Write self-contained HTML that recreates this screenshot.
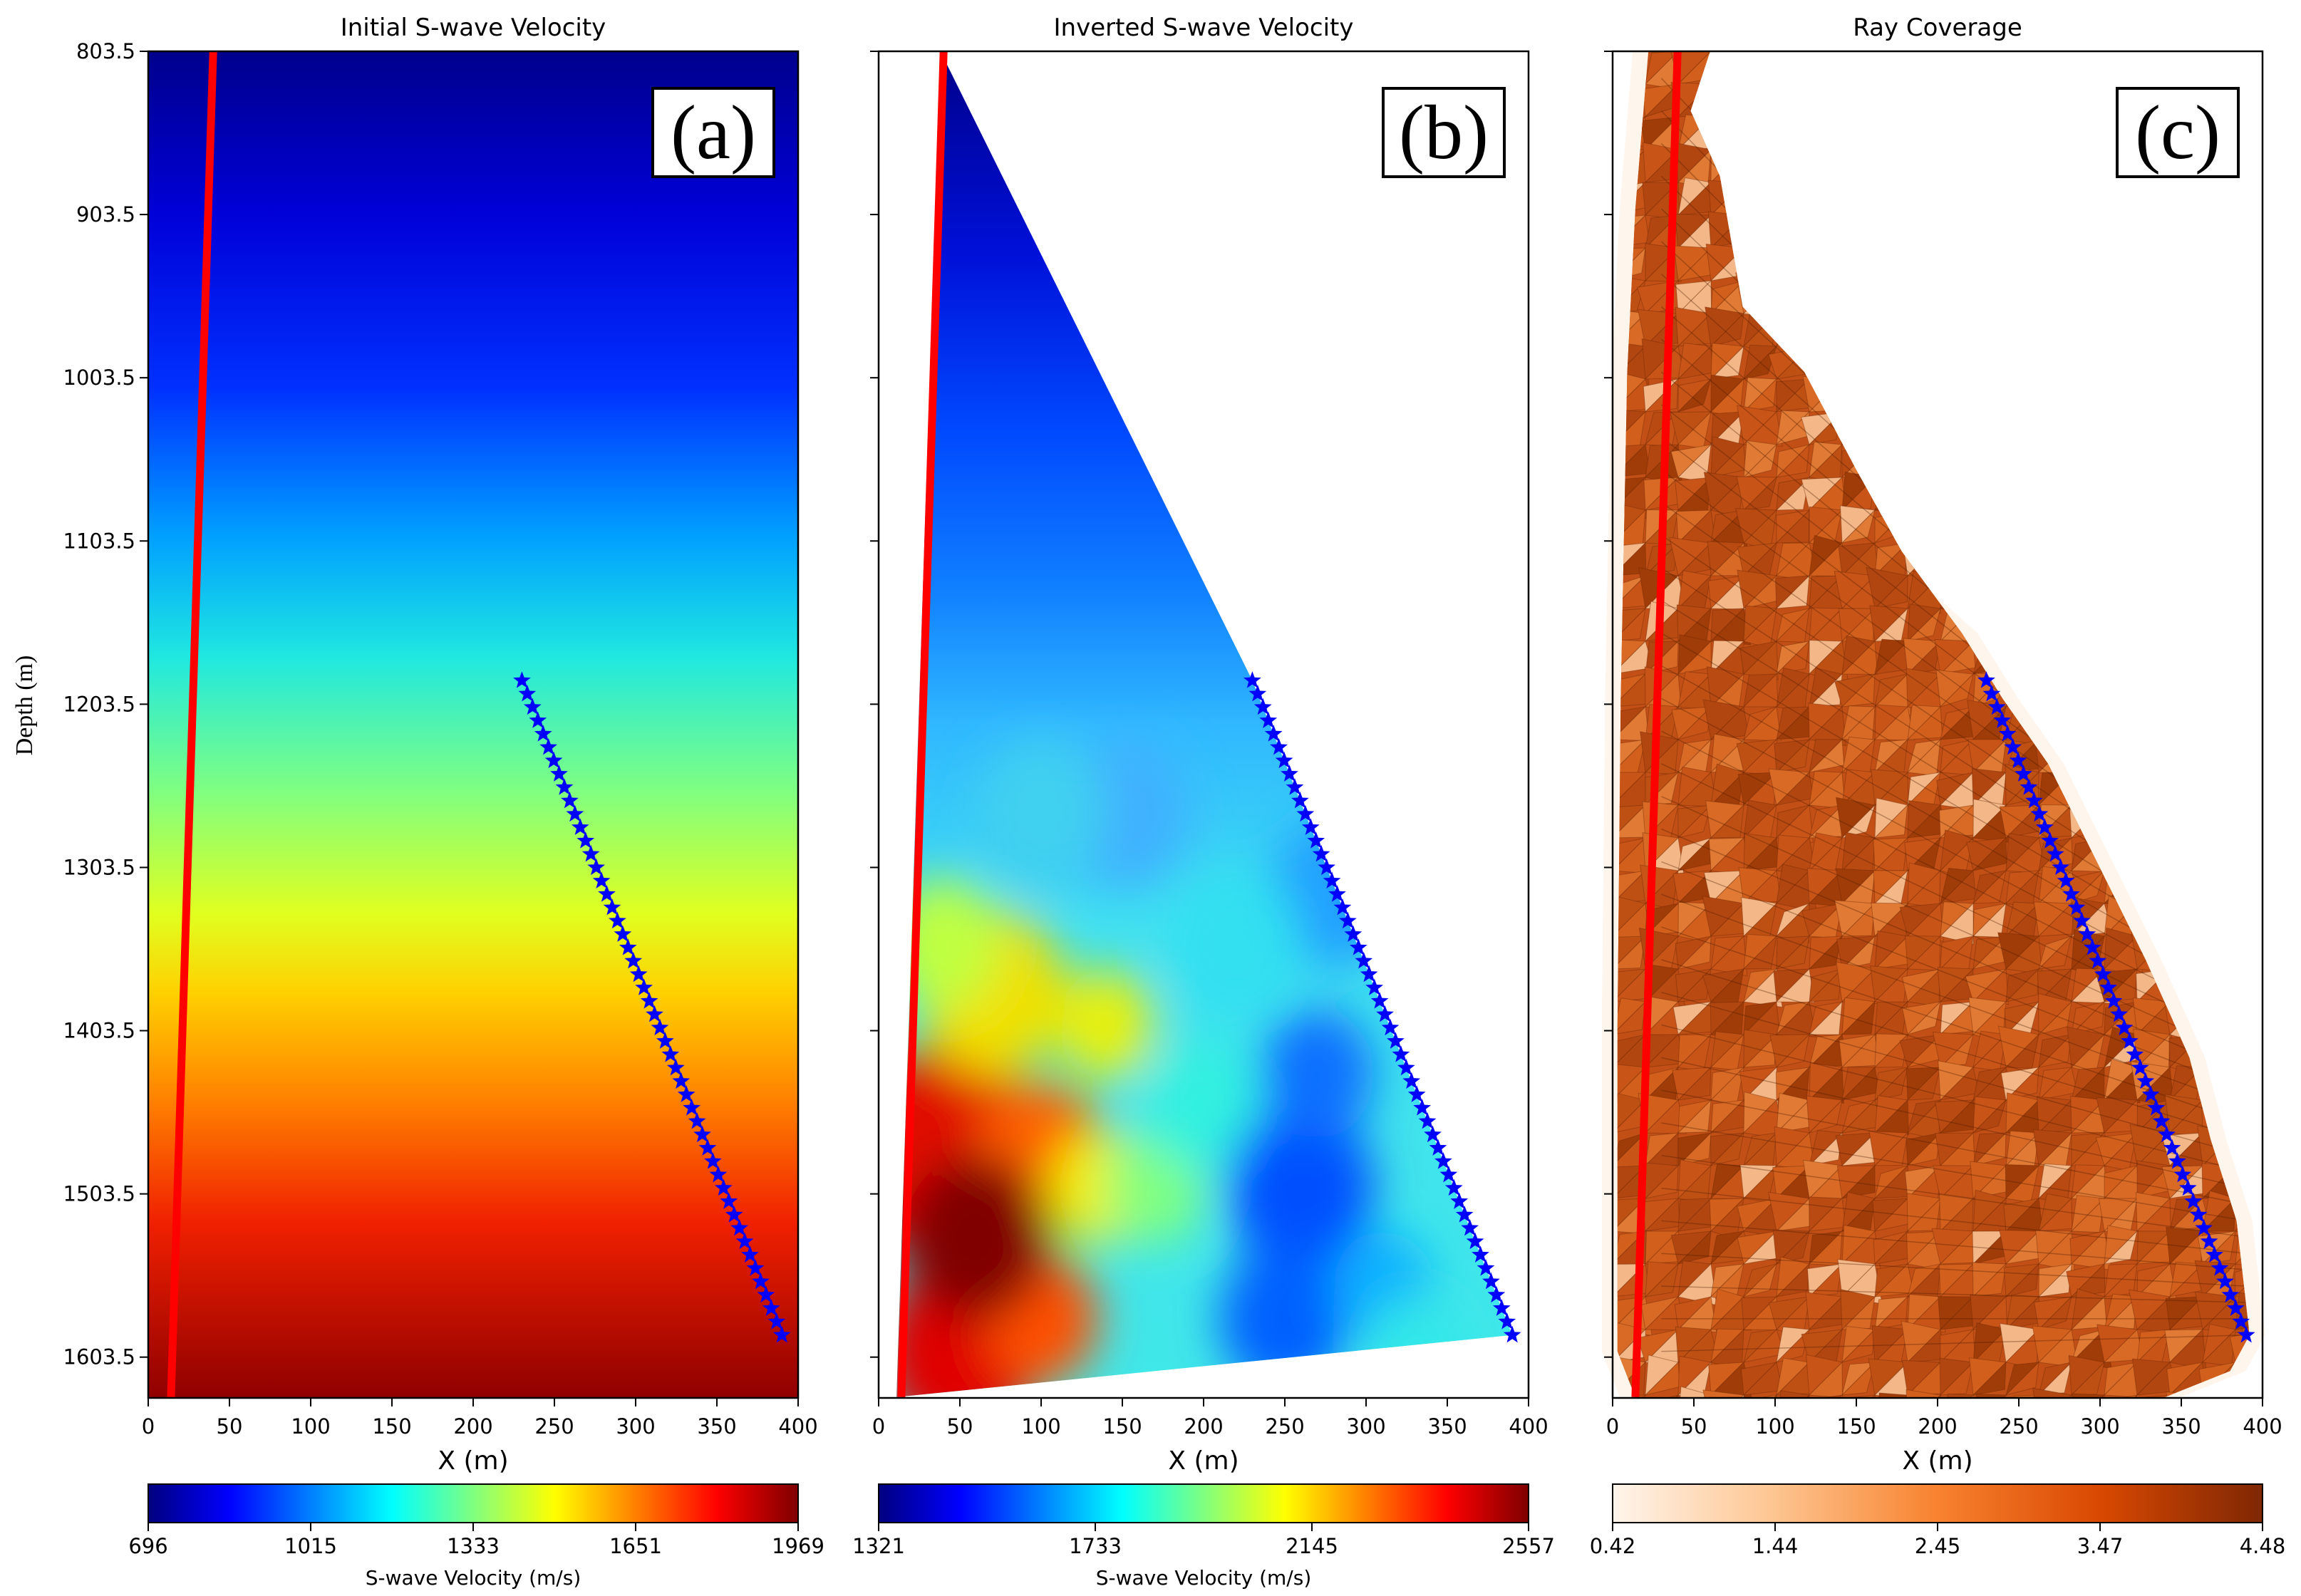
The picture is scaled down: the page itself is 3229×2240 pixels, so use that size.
<!DOCTYPE html>
<html><head><meta charset="utf-8"><style>
html,body{margin:0;padding:0;background:#fff;}
svg{display:block;font-family:"DejaVu Sans","Liberation Sans",sans-serif;}
</style></head><body>
<svg id="fig" width="3229" height="2240" viewBox="0 0 3229 2240" xmlns="http://www.w3.org/2000/svg">
<defs>
<linearGradient id="gA" x1="0" y1="0" x2="0" y2="1">
<stop offset="0" stop-color="#00008c"/><stop offset="0.12" stop-color="#0000d8"/>
<stop offset="0.25" stop-color="#0030ff"/><stop offset="0.36" stop-color="#00a0ff"/>
<stop offset="0.45" stop-color="#20e8e0"/><stop offset="0.55" stop-color="#80ff80"/>
<stop offset="0.64" stop-color="#e0ff20"/><stop offset="0.7" stop-color="#ffd000"/>
<stop offset="0.78" stop-color="#ff8000"/><stop offset="0.87" stop-color="#f02000"/>
<stop offset="1" stop-color="#900000"/></linearGradient>
<linearGradient id="jet" x1="0" y1="0" x2="1" y2="0">
<stop offset="0" stop-color="#00007f"/><stop offset="0.125" stop-color="#0000ff"/>
<stop offset="0.375" stop-color="#00ffff"/><stop offset="0.625" stop-color="#ffff00"/>
<stop offset="0.875" stop-color="#ff0000"/><stop offset="1" stop-color="#7f0000"/></linearGradient>
<linearGradient id="oranges" x1="0" y1="0" x2="1" y2="0">
<stop offset="0" stop-color="#fff5eb"/><stop offset="0.25" stop-color="#fdc590"/>
<stop offset="0.5" stop-color="#f8822f"/><stop offset="0.75" stop-color="#d94801"/>
<stop offset="1" stop-color="#7f2704"/></linearGradient>
<linearGradient id="gB" x1="0" y1="0" x2="0" y2="1">
<stop offset="0" stop-color="#00008a"/><stop offset="0.15" stop-color="#0010d8"/>
<stop offset="0.28" stop-color="#0048ff"/><stop offset="0.4" stop-color="#1080ff"/>
<stop offset="0.5" stop-color="#30b8ff"/><stop offset="0.65" stop-color="#40e0f0"/>
<stop offset="1" stop-color="#40e8e8"/></linearGradient>
<filter id="blur" x="-20%" y="-20%" width="140%" height="140%"><feGaussianBlur stdDeviation="32"/></filter>
<clipPath id="clipB"><polygon id="polyB"/></clipPath>
<clipPath id="clipC"><polygon id="polyC"/></clipPath>
</defs>
<g id="root"></g>
</svg>
<script>
// ---- data ----
const xTicks=[0,50,100,150,200,250,300,350,400];
const yTicks=[803.5,903.5,1003.5,1103.5,1203.5,1303.5,1403.5,1503.5,1603.5];
const titles=["Initial S-wave Velocity","Inverted S-wave Velocity","Ray Coverage"];
const panelLabels=["(a)","(b)","(c)"];
const cbTicksA=["696","1015","1333","1651","1969"];
const cbTicksB=["1321","1733","2145","2557"];
const cbTicksC=["0.42","1.44","2.45","3.47","4.48"];
const wellTop=[40,803.5], wellBot=[14,1628];
const recvStart=[230,1189], recvEnd=[390,1590];
const recvCount=50;
const regionB=[[38,803.5],[230,1189],[390,1590],[11,1628]];
const blobsX=[40,50,100,100,135,140,70,40,170,200,260,270,250,310,150,280,220,100,330,60];
const blobsD=[1480,1600,1480,1580,1500,1400,1380,1350,1500,1450,1500,1430,1580,1560,1270,1320,1350,1270,1600,1530];
const blobsR=[60,50,40,35,30,30,45,35,30,35,45,35,40,30,40,40,40,40,30,45];
const blobsC=["#e01000","#e00000","#ff6000","#ff5000","#f0f000","#e8f010","#f0e000","#c0ff40","#80ff80","#30f0e0","#0050ff","#1070ff","#0060ff","#10b0ff","#40b0ff","#20a0ff","#30e0f0","#40d0f0","#30e8e8","#800000"];
const regionC=[[22,803.5],[60,803.5],[48,840],[66,880],[80,960],[118,1000],[150,1060],[178,1110],[215,1160],[240,1200],[268,1240],[298,1300],[328,1360],[355,1420],[368,1470],[384,1520],[392,1590],[380,1612],[340,1628],[14,1628],[3,1600],[3,1400],[5,1200],[9,1000],[14,900]];

const panelsX=[208,1233,2263], PW=912, PT=72, PB=1962;
const xMin=0,xMax=400,dMin=803.5,dMax=1628.5;
const NS="http://www.w3.org/2000/svg";
const root=document.getElementById('root');
function sx(p,x){return panelsX[p]+(x-xMin)/(xMax-xMin)*PW;}
function sy(d){return PT+(d-dMin)/(dMax-dMin)*(PB-PT);}
function el(tag,attrs,parent,text){const e=document.createElementNS(NS,tag);for(const k in attrs)e.setAttribute(k,attrs[k]);if(text!==undefined)e.textContent=text;(parent||root).appendChild(e);return e;}

let g=el('g',{});
el('rect',{x:panelsX[0],y:PT,width:PW,height:PB-PT,fill:'url(#gA)'},g);

document.getElementById('polyB').setAttribute('points',regionB.map(p=>sx(1,p[0])+','+sy(p[1])).join(' '));
g=el('g',{'clip-path':'url(#clipB)'});
el('rect',{x:panelsX[1],y:PT,width:PW,height:PB-PT,fill:'url(#gB)'},g);
const bg=el('g',{filter:'url(#blur)'},g);
for(let i=0;i<blobsX.length;i++){
 const c=el('ellipse',{cx:sx(1,blobsX[i]),cy:sy(blobsD[i]),rx:blobsR[i]*2.28,ry:blobsR[i]*2.6,fill:blobsC[i]},bg);
 
 
}

document.getElementById('polyC').setAttribute('points',regionC.map(p=>sx(2,p[0])+','+sy(p[1])).join(' '));
el('polygon',{points:regionC.map(p=>(sx(2,p[0])+(p[0]<200?-22:22))+','+sy(p[1])).join(' '),fill:'#fdeee0',opacity:0.6});
g=el('g',{'clip-path':'url(#clipC)'});
el('rect',{x:panelsX[2],y:PT,width:PW,height:PB-PT,fill:'#c25016'},g);
let seed=7;function rnd(){seed=(seed*9301+49297)%233280;return seed/233280;}
const shades=['#c85418','#b24610','#d2601c','#a03c08','#e07a34','#bf5014','#c85418','#b84a12','#d86a26','#f4b888'];
const cs=46;
for(let yy=PT;yy<PB;yy+=cs){for(let xx=panelsX[2];xx<panelsX[2]+PW;xx+=cs){
 for(let t=0;t<2;t++){const r=rnd();const col=shades[Math.floor(r*shades.length)];
  const jx=(rnd()-0.5)*24,jy=(rnd()-0.5)*24;
  const pts=t==0?[[xx+jx,yy+jy],[xx+cs,yy],[xx,yy+cs]]:[[xx+cs,yy],[xx+cs+jx,yy+cs+jy],[xx,yy+cs]];
  el('polygon',{points:pts.map(p=>p.join(',')).join(' '),fill:col,stroke:'#6a2606','stroke-width':1,'stroke-opacity':0.4},g);}}}
for(let k=0;k<40;k++){el('line',{x1:sx(2,30),y1:sy(820+k*20),x2:sx(2,390),y2:sy(1200+k*10),stroke:'#4a1a02','stroke-width':1.5,opacity:0.35},g);}

function star(cx,cy,r){let s='';for(let i=0;i<10;i++){const a=-Math.PI/2+i*Math.PI/5;const rr=i%2?r*0.42:r;s+=(cx+rr*Math.cos(a))+','+(cy+rr*Math.sin(a))+' ';}return s;}
for(let p=0;p<3;p++){
 const w=el('line',{x1:sx(p,wellTop[0]),y1:sy(wellTop[1]),x2:sx(p,wellBot[0]),y2:sy(wellBot[1]),stroke:'#ff0000','stroke-width':11});
 
 const rg=el('g',{});
 for(let i=0;i<recvCount;i++){const f=i/(recvCount-1);
  const x=recvStart[0]+f*(recvEnd[0]-recvStart[0]),d=recvStart[1]+f*(recvEnd[1]-recvStart[1]);
  el('polygon',{points:star(sx(p,x),sy(d),13),fill:'#0000ff'},rg);}
}

for(let p=0;p<3;p++){
 const ax=el('g',{});
 el('rect',{x:panelsX[p],y:PT,width:PW,height:PB-PT,fill:'none',stroke:'#000','stroke-width':2.5},ax);
 xTicks.forEach(v=>{const X=sx(p,v);el('line',{x1:X,y1:PB,x2:X,y2:PB+12,stroke:'#000','stroke-width':2},ax);
  const t=el('text',{x:X,y:2012,'font-size':29,'text-anchor':'middle',fill:'#000'},ax,String(v));});
 yTicks.forEach(v=>{const Y=sy(v);el('line',{x1:panelsX[p]-12,y1:Y,x2:panelsX[p],y2:Y,stroke:'#000','stroke-width':2},ax);
  if(p==0){const t=el('text',{x:panelsX[p]-18,y:Y+10,'font-size':29,'text-anchor':'end',fill:'#000'},ax,String(v));}});
 let t=el('text',{x:panelsX[p]+PW/2,y:2062,'font-size':36,'text-anchor':'middle',fill:'#000'},root,'X (m)');
 t=el('text',{x:panelsX[p]+PW/2,y:50,'font-size':34,'text-anchor':'middle',fill:'#000'},root,titles[p]);
 const bx=panelsX[p]+708;
 el('rect',{x:bx,y:124,width:170,height:124,fill:'#fff',stroke:'#000','stroke-width':4});
 t=el('text',{x:bx+85,y:222,'font-size':108,'text-anchor':'middle','font-family':'Liberation Serif, serif',fill:'#000'},root,panelLabels[p]);
 const cb=el('g',{});
 el('rect',{x:panelsX[p],y:2083,width:PW,height:54,fill:p==2?'url(#oranges)':'url(#jet)',stroke:'#000','stroke-width':2},cb);
 const ticks=[cbTicksA,cbTicksB,cbTicksC][p];
 ticks.forEach((s,i)=>{const X=panelsX[p]+i/(ticks.length-1)*PW;
  el('line',{x1:X,y1:2137,x2:X,y2:2149,stroke:'#000','stroke-width':2},cb);
  const tt=el('text',{x:X,y:2180,'font-size':29,'text-anchor':'middle',fill:'#000'},cb,s);});
 if(p<2){t=el('text',{x:panelsX[p]+PW/2,y:2224,'font-size':28,'text-anchor':'middle',fill:'#000'},cb,'S-wave Velocity (m/s)');}
}
const yl=el('text',{x:0,y:0,'font-size':34,'text-anchor':'middle',fill:'#000',transform:'translate(45,990) rotate(-90)','font-family':'Liberation Serif, serif'},root,'Depth (m)');

</script>
</body></html>
